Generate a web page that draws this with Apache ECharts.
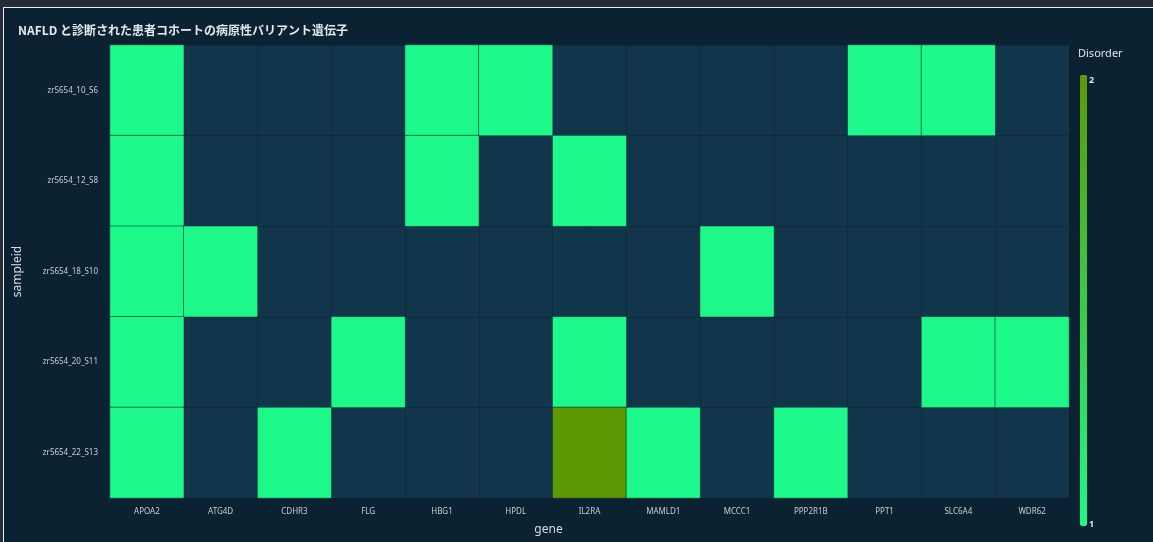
<!DOCTYPE html>
<html>
<head>
<meta charset="utf-8">
<script src="https://cdn.jsdelivr.net/npm/echarts@6/dist/echarts.min.js"></script>
<style>
  html, body { margin: 0; padding: 0; background: #272b38; width: 1153px; height: 542px; overflow: hidden; }
  #wrap { position: absolute; left: 3px; top: 7px; width: 1150px; height: 535px; border-left: 1px solid #e8ecf0; border-top: 1px solid #e8ecf0; background: #0b2232; }
  #chart { width: 1150px; height: 535px; }
</style>
</head>
<body>
<div id="wrap"><div id="chart"></div></div>
<script>
const titleText = 'NAFLD と診断された患者コホートの病原性バリアント遺伝子';
const genes = ['APOA2','ATG4D','CDHR3','FLG','HBG1','HPDL','IL2RA','MAMLD1','MCCC1','PPP2R1B','PPT1','SLC6A4','WDR62'];
const samples = ['zr5654_10_S6','zr5654_12_S8','zr5654_18_S10','zr5654_20_S11','zr5654_22_S13'];
// Disorder count per sample (rows) and gene (columns); 0 = no variant
const row_10_S6  = [1,0,0,0,1,1,0,0,0,0,1,1,0];
const row_12_S8  = [1,0,0,0,1,0,1,0,0,0,0,0,0];
const row_18_S10 = [1,1,0,0,0,0,0,0,1,0,0,0,0];
const row_20_S11 = [1,0,0,1,0,0,1,0,0,0,0,1,1];
const row_22_S13 = [1,0,1,0,0,0,2,1,0,1,0,0,0];
const colorbarTicks = [1, 2];

const rows = [row_10_S6, row_12_S8, row_18_S10, row_20_S11, row_22_S13];
const data = [];
rows.forEach((r, yi) => r.forEach((v, xi) => { if (v > 0) data.push([xi, yi, v]); }));

const chart = echarts.init(document.getElementById('chart'));
const font = '"Noto Sans", "Noto Sans CJK JP", sans-serif';
chart.setOption({
  backgroundColor: '#0b2232',
  animation: false,
  textStyle: { fontFamily: font },
  title: {
    text: titleText,
    left: 9, top: 11,
    textStyle: { color: '#e3e8ee', fontSize: 12, fontWeight: 'bold', fontFamily: '"Noto Sans CJK JP", "Noto Sans", sans-serif' }
  },
  grid: { left: 106, top: 37, width: 959, height: 453, containLabel: false, show: true, backgroundColor: '#11364c', borderWidth: 0 },
  xAxis: {
    type: 'category', data: genes,
    name: 'gene', nameLocation: 'middle', nameGap: 26,
    nameTextStyle: { color: '#d6dde4', fontSize: 12, padding: [0, 82, 0, 0] },
    axisLine: { show: false }, axisTick: { show: false },
    axisLabel: { color: '#c6ced6', fontSize: 8, margin: 10 },
    splitLine: { show: true, interval: 0, lineStyle: { color: 'rgba(11,34,50,0.45)', width: 1 } }
  },
  yAxis: {
    type: 'category', data: samples, inverse: true,
    name: 'sampleid', nameLocation: 'middle', nameGap: 86,
    nameTextStyle: { color: '#d6dde4', fontSize: 12 },
    axisLine: { show: false }, axisTick: { show: false },
    axisLabel: { color: '#c6ced6', fontSize: 8, margin: 12 },
    splitLine: { show: true, interval: 0, lineStyle: { color: 'rgba(11,34,50,0.45)', width: 1 } }
  },
  visualMap: {
    type: 'continuous',
    min: colorbarTicks[0], max: colorbarTicks[1],
    show: true, calculable: false,
    orient: 'vertical',
    left: 1061, top: 52,
    itemWidth: 7, itemHeight: 451,
    text: null,
    inRange: { color: ['#1cf98a', '#5b9a05'] },
    textStyle: { color: 'rgba(0,0,0,0)' }
  },
  graphic: [
    { type: 'text', left: 1074, top: 40, style: { text: 'Disorder', fill: '#dfe5eb', font: '11px ' + font } },
    { type: 'text', left: 1085, top: 68, style: { text: String(colorbarTicks[1]), fill: '#dfe5eb', font: 'bold 9px ' + font } },
    { type: 'text', left: 1085, top: 512, style: { text: String(colorbarTicks[0]), fill: '#dfe5eb', font: 'bold 9px ' + font } }
  ],
  series: [{
    type: 'heatmap',
    data: data,
    itemStyle: { borderColor: 'rgba(11,34,50,0.55)', borderWidth: 1 },
    emphasis: { disabled: true }
  }]
});
</script>
</body>
</html>
